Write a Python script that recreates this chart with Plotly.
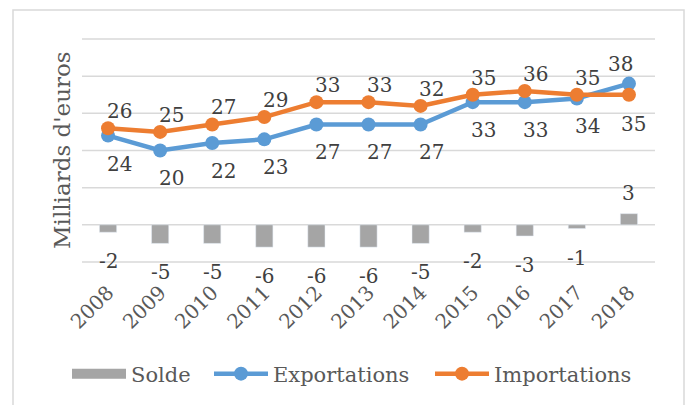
import plotly.graph_objects as go

years = ["2008", "2009", "2010", "2011", "2012", "2013", "2014", "2015", "2016", "2017", "2018"]
solde = [-2, -5, -5, -6, -6, -6, -5, -2, -3, -1, 3]
exportations = [24, 20, 22, 23, 27, 27, 27, 33, 33, 34, 38]
importations = [26, 25, 27, 29, 33, 33, 32, 35, 36, 35, 35]
grid_values = [-10, 0, 10, 20, 30, 40, 50]

BLUE = "#5B9BD5"
ORANGE = "#ED7D31"
GRAY = "#A5A5A5"
GRID = "#D9D9D9"
TXT = "#404040"
TXT2 = "#595959"
FONT = "DejaVu Serif"

# plot area geometry (px) used to place legends / frame in paper coords
W, H = 689, 405
ML, MR, MT, MB = 82, 34, 32, 142
PW, PH = W - ML - MR, H - MT - MB


def px(x):
    return (x - ML) / PW


def py(y):
    return (H - MB - y) / PH


fig = go.Figure()
fig.add_trace(go.Bar(x=years, y=solde, name="Solde", marker_color=GRAY, showlegend=False))
# legend entry for Solde drawn as a wide gray swatch
fig.add_trace(go.Scatter(x=[None], y=[None], name="Solde", mode="lines",
                         line=dict(color=GRAY, width=13), legend="legend"))
fig.add_trace(go.Scatter(x=years, y=exportations, name="Exportations", mode="lines+markers",
                         line=dict(color=BLUE, width=4.5), marker=dict(color=BLUE, size=14),
                         legend="legend2"))
fig.add_trace(go.Scatter(x=years, y=importations, name="Importations", mode="lines+markers",
                         line=dict(color=ORANGE, width=4.5), marker=dict(color=ORANGE, size=14),
                         legend="legend3"))

annotations = []
lab_font = dict(family=FONT, size=20, color=TXT)
for k, (e, i, s) in enumerate(zip(exportations, importations, solde)):
    e_above = e > i
    annotations.append(dict(x=k, y=e, xref="x", yref="y", text=str(e), showarrow=False,
                            font=lab_font, xanchor="center", yanchor="middle",
                            xshift=11 if not e_above else -8,
                            yshift=20 if e_above else -28))
    annotations.append(dict(x=k, y=i, xref="x", yref="y", text=str(i), showarrow=False,
                            font=lab_font, xanchor="center", yanchor="middle",
                            xshift=11 if not e_above else 5,
                            yshift=-29 if e_above else 17))
    annotations.append(dict(x=k, y=s, xref="x", yref="y", text=str(s), showarrow=False,
                            font=lab_font, xanchor="center", yanchor="middle",
                            yshift=-29 if s < 0 else 21))

annotations.append(dict(xref="paper", yref="paper", x=px(62), y=py(150),
                        xanchor="center", yanchor="middle", text="Milliards d'euros",
                        textangle=-90, showarrow=False,
                        font=dict(family=FONT, size=23, color=TXT2)))

leg_common = dict(orientation="h", yanchor="middle", xanchor="left", y=py(374),
                  font=dict(family=FONT, size=21, color=TXT2), itemwidth=54,
                  bgcolor="rgba(0,0,0,0)")

shapes = [dict(type="rect", xref="paper", yref="paper", x0=px(13), x1=px(684),
               y0=py(420), y1=py(10), line=dict(color=GRID, width=1.5), layer="below")]
# horizontal gridlines; the outer ones touch no data so they are drawn on top
for g in grid_values:
    outer = g in (min(grid_values), max(grid_values))
    shapes.append(dict(type="line", xref="paper", yref="y", x0=0, x1=1, y0=g, y1=g,
                       line=dict(color=GRID, width=1.5),
                       layer="above" if outer else "below"))

fig.update_layout(
    width=W, height=H,
    margin=dict(l=ML, r=MR, t=MT, b=MB, autoexpand=False),
    paper_bgcolor="white", plot_bgcolor="white",
    showlegend=True, hovermode=False, bargap=0.67,
    legend=dict(x=px(67), **leg_common),
    legend2=dict(x=px(209), **leg_common),
    legend3=dict(x=px(430), **leg_common),
    annotations=annotations,
    shapes=shapes,
    xaxis=dict(type="category", categoryorder="array", categoryarray=years,
               range=[-0.5, len(years) - 0.5], tickangle=-45, ticklabelstandoff=13,
               tickfont=dict(family=FONT, size=20, color=TXT2),
               showgrid=False, showline=False, ticks=""),
    yaxis=dict(range=[-10.27, 51.88], tickvals=grid_values,
               showticklabels=False, showgrid=False, zeroline=False, showline=False),
)

fig.write_html("out.html", config={"displayModeBar": False})
